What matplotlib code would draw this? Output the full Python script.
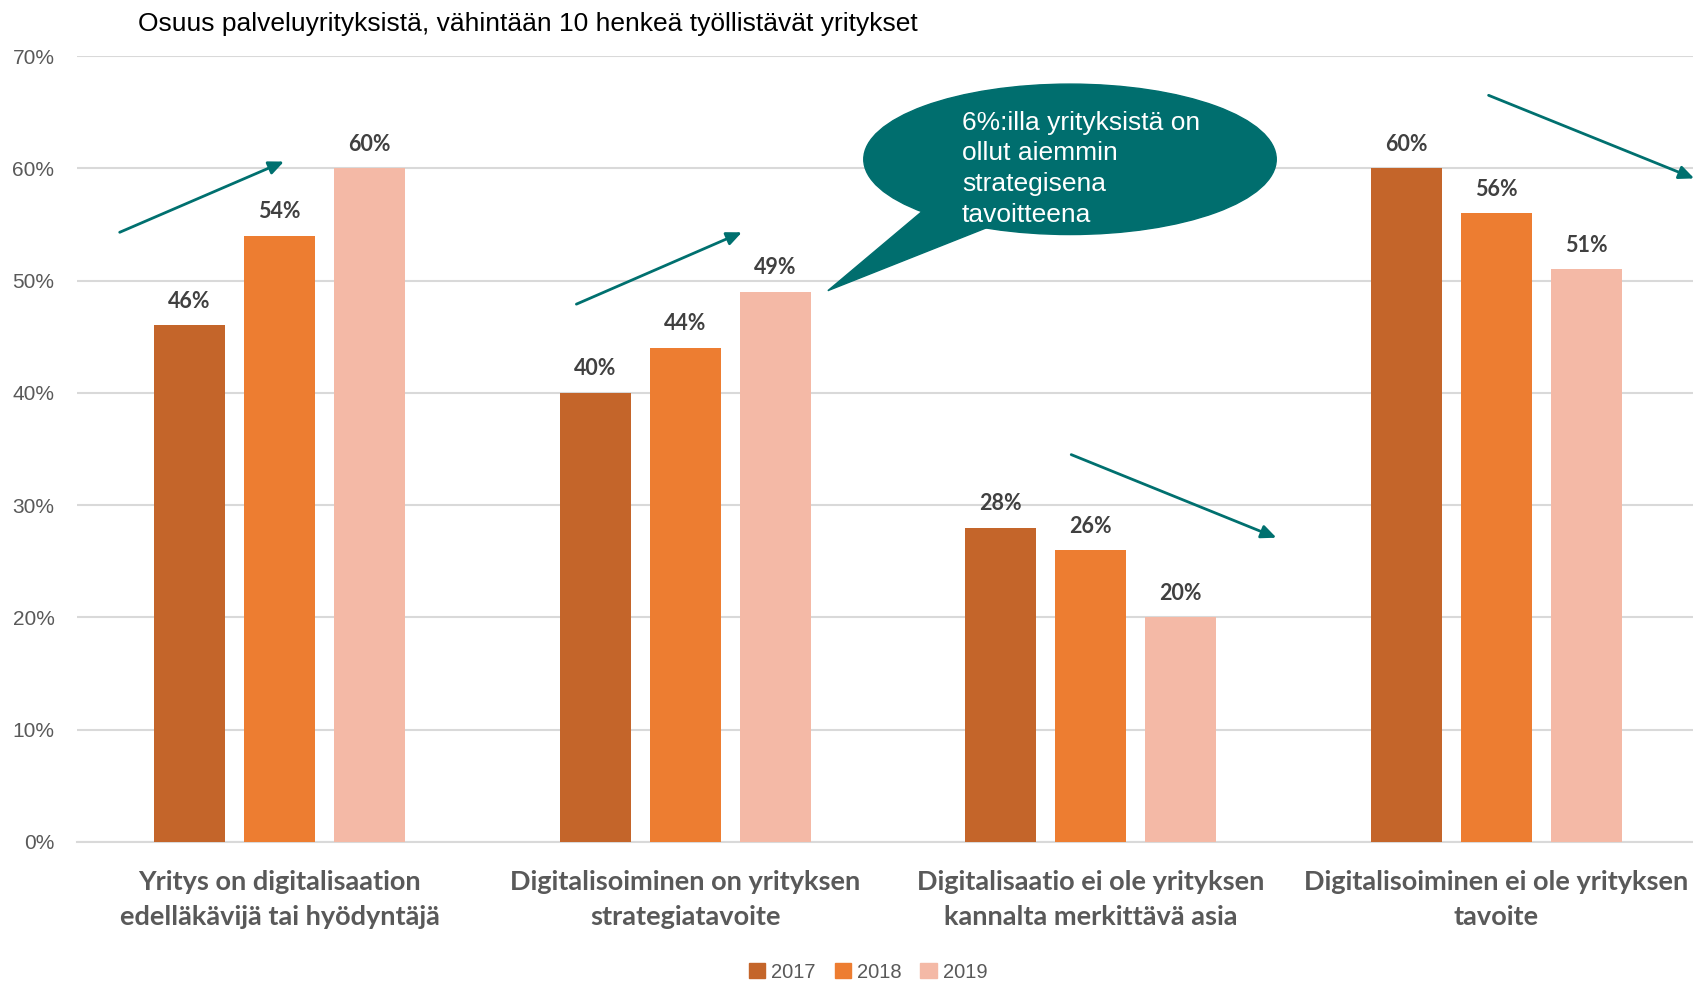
import matplotlib
matplotlib.use("Agg")
import matplotlib.pyplot as plt
from matplotlib.patches import Ellipse, Polygon, Patch
import numpy as np

categories = ["Yritys on digitalisaation\nedelläkävijä tai hyödyntäjä",
              "Digitalisoiminen on yrityksen\nstrategiatavoite",
              "Digitalisaatio ei ole yrityksen\nkannalta merkittävä asia",
              "Digitalisoiminen ei ole yrityksen\ntavoite"]
years = ["2017", "2018", "2019"]
v2017 = [46, 40, 28, 60]
v2018 = [54, 44, 26, 56]
v2019 = [60, 49, 20, 51]
colors = ["#C4652A", "#ED7D31", "#F4B9A6"]
title = "Osuus palveluyrityksistä, vähintään 10 henkeä työllistävät yritykset"
callout = "6%:illa yrityksistä on\nollut aiemmin\nstrategisena\ntavoitteena"
yticks = [0, 10, 20, 30, 40, 50, 60, 70]

teal = "#006E6E"
fig = plt.figure(figsize=(16.93, 9.81), dpi=100)
ax = fig.add_axes([0.0453, 0.1417, 0.9583, 0.8012])

x = np.arange(len(categories))
bw = 0.175
step = 0.222
series = [v2017, v2018, v2019]
for i, (vals, col, yr) in enumerate(zip(series, colors, years)):
    ax.bar(x + (i - 1) * step, vals, width=bw, color=col, label=yr, zorder=3)
    for xb, v in zip(x + (i - 1) * step, vals):
        ax.text(xb, v + 1.2, f"{v}%", ha="center", va="bottom", fontsize=15.5,
                fontweight="bold", color="#404040", family=["Lato", "DejaVu Sans"], zorder=4)

ax.set_xlim(-0.5, 3.5)
ax.set_ylim(0, 70)
ax.set_yticks(yticks)
ax.set_yticklabels([f"{t}%" for t in yticks], fontsize=15, color="#595959",
                   family=["Liberation Sans Narrow", "Liberation Sans", "DejaVu Sans"])
ax.set_xticks(x)
ax.set_xticklabels(categories, fontsize=19.5, fontweight="bold", color="#595959",
                   family=["Lato", "DejaVu Sans"], linespacing=1.55)
ax.tick_params(axis="both", length=0)
ax.tick_params(axis="y", pad=16)
ax.tick_params(axis="x", pad=20)
ax.grid(axis="y", color="#D9D9D9", linewidth=1.5, zorder=0)
for s in ["top", "right", "left"]:
    ax.spines[s].set_visible(False)
ax.spines["bottom"].set_color("#D9D9D9")
ax.spines["bottom"].set_linewidth(1.5)
ax.set_axisbelow(True)

fig.text(138 / 1693, 1 - 24 / 981, title, fontsize=19, color="black",
         family=["Liberation Sans", "DejaVu Sans"], va="center", ha="left")

# callout bubble
ell = Ellipse((1.949, 60.8), 1.017, 13.4, color=teal, zorder=5, clip_on=False)
ax.add_patch(ell)
tail = Polygon([(1.589, 56.3), (1.352, 49.1), (1.75, 54.8)], closed=True, color=teal, zorder=5)
ax.add_patch(tail)
ax.text(1.683, 59.95, callout, color="white", fontsize=19, va="center", ha="left",
        family=["Liberation Sans", "DejaVu Sans"], linespacing=1.36, zorder=6)

# trend arrows
arrows = [((-0.394, 54.3), (0.011, 60.6)),
          ((0.732, 47.9), (1.140, 54.3)),
          ((1.952, 34.5), (2.458, 27.1)),
          ((2.981, 66.5), (3.488, 59.1))]
for (x0, y0), (x1, y1) in arrows:
    ax.annotate("", xy=(x1, y1), xytext=(x0, y0), annotation_clip=False,
                arrowprops=dict(arrowstyle="-|>,head_length=0.9,head_width=0.4",
                                color="#00706F", lw=2, shrinkA=0, shrinkB=0), zorder=6)

handles = [Patch(color=c, label=y) for c, y in zip(colors, years)]
leg = fig.legend(handles=handles, loc="center", bbox_to_anchor=(868 / 1693, 1 - 972 / 981),
                 ncol=3, frameon=False, handlelength=0.8, handleheight=0.8,
                 handletextpad=0.3, columnspacing=0.95,
                 prop={"family": ["Liberation Sans Narrow", "Liberation Sans"], "size": 14.5})
for t in leg.get_texts():
    t.set_color("#595959")

fig.savefig("out.png", dpi=100)
